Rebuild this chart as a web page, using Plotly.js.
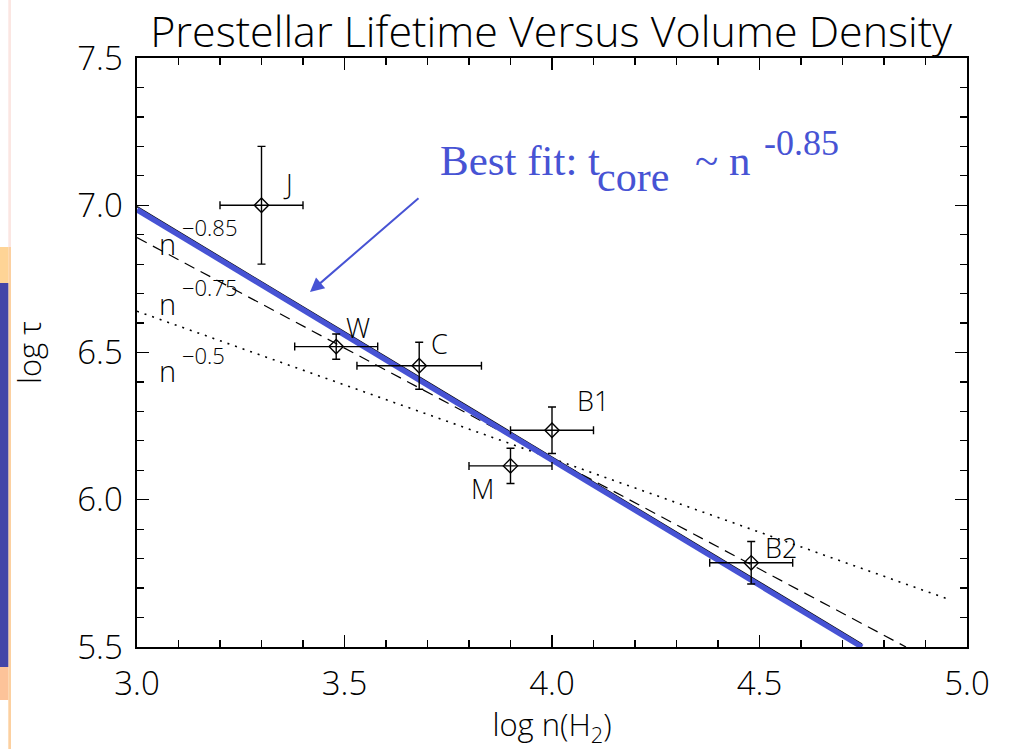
<!DOCTYPE html>
<html>
<head>
<meta charset="utf-8">
<script src="https://cdn.plot.ly/plotly-3.0.1.min.js"></script>
<style>
html,body{margin:0;padding:0;background:#fff;}
#chart{width:1012px;height:749px;}
</style>
</head>
<body>
<div id="chart"></div>
<script>
// Cores: names, log n(H2), log tau and their error bars
const coreNames = ["J", "W", "C", "B1", "M", "B2"];
const logN = [3.30, 3.48, 3.68, 4.00, 3.90, 4.48];
const logTau = [7.00, 6.52, 6.455, 6.236, 6.115, 5.786];
const errN = [0.10, 0.10, 0.15, 0.10, 0.10, 0.10];
const errTau = [0.20, 0.043, 0.08, 0.079, 0.06, 0.072];

// Power-law lines (endpoints)
const fitX = [3.0, 4.747];
const fitY = [6.985, 5.5];
const line085X = [3.0, 4.747];
const line085Y = [6.995, 5.510];
const line075X = [3.0, 4.853];
const line075Y = [6.89, 5.5];
const line05X = [3.0, 4.95];
const line05Y = [6.64, 5.665];

const xTicks = [3.0, 3.5, 4.0, 4.5, 5.0];
const yTicks = [5.5, 6.0, 6.5, 7.0, 7.5];

const BLUE = "#4753d4";
const FONT = "Open Sans, DejaVu Sans, sans-serif";
const SERIF = "Liberation Serif, Times New Roman, serif";

const traces = [
  {x: line05X, y: line05Y, mode: "lines", line: {color: "#000", width: 1.6, dash: "2px,6px"}, hoverinfo: "skip"},
  {x: line075X, y: line075Y, mode: "lines", line: {color: "#000", width: 1.2, dash: "11px,7px"}, hoverinfo: "skip"},
  {x: line085X, y: line085Y, mode: "lines", line: {color: "#000", width: 1.5}, hoverinfo: "skip"},
  {x: fitX, y: fitY, mode: "lines", line: {color: BLUE, width: 5.5}, hoverinfo: "skip"},
  {
    x: logN, y: logTau, mode: "markers", text: coreNames,
    marker: {symbol: "diamond-open", size: 11, color: "#000", line: {width: 1.4, color: "#000"}},
    error_x: {type: "data", array: errN, visible: true, color: "#000", thickness: 1.4, width: 4},
    error_y: {type: "data", array: errTau, visible: true, color: "#000", thickness: 1.4, width: 4}
  }
];

// helper to convert pixel of reference to data coords (for annotation placement)
function px2x(p){ return 3 + (p - 137) / 415; }
function py2y(p){ return 7.5 - (p - 58) / 294.5; }

const labelFont = {family: FONT, size: 27, color: "#000", weight: 300};
const annotations = [];
const labelPos = [[288, 183], [358, 327], [439, 343], [593, 400], [482, 488], [781, 547]];
coreNames.forEach((n, i) => {
  annotations.push({x: px2x(labelPos[i][0]), y: py2y(labelPos[i][1]), xref: "x", yref: "y",
    text: n, showarrow: false, font: labelFont, xanchor: "center", yanchor: "middle"});
});
const powLabels = [["−0.85", 243, 227], ["−0.75", 303, 287], ["−0.5", 370, 355]];
powLabels.forEach(p => {
  annotations.push({x: px2x(167), y: py2y(p[1]), xref: "x", yref: "y", text: "n", showarrow: false,
    font: {family: FONT, size: 29, color: "#000", weight: 300}, xanchor: "center", yanchor: "middle"});
  annotations.push({x: px2x(180), y: py2y(p[2]), xref: "x", yref: "y", text: p[0], showarrow: false,
    font: {family: FONT, size: 22, color: "#000", weight: 300}, xanchor: "left", yanchor: "middle"});
});
// Blue annotation text (pieces) and arrow
const blueParts = [
  ["Best fit: t", 440, 160, 43],
  ["core", 597, 177, 42],
  ["~ n", 695, 160, 43],
  ["-0.85", 764, 143, 36]
];
blueParts.forEach(b => {
  annotations.push({x: px2x(b[1]), y: py2y(b[2]), xref: "x", yref: "y", text: b[0], showarrow: false,
    font: {family: SERIF, size: b[3], color: BLUE}, xanchor: "left", yanchor: "middle",
    xshift: -2});
});
annotations.push({x: px2x(310), y: py2y(292), xref: "x", yref: "y",
  ax: px2x(420), ay: py2y(197), axref: "x", ayref: "y", text: "",
  showarrow: true, arrowhead: 2, arrowsize: 1.4, arrowwidth: 2, arrowcolor: BLUE});

// Left page decorations (paper coords)
const W = 830, H = 589, L = 137, T = 58;
function pX(p){ return (p - L) / W; }
function pY(p){ return (T + H - p) / H; }
const shapes = [
  {type: "rect", xref: "paper", yref: "paper", x0: pX(8.3), x1: pX(11), y0: pY(0), y1: pY(247), fillcolor: "#fbe6e2", line: {width: 0}, layer: "below"},
  {type: "rect", xref: "paper", yref: "paper", x0: pX(8.3), x1: pX(11), y0: pY(247), y1: pY(749), fillcolor: "#fcd0a0", line: {width: 0}, layer: "below"},
  {type: "rect", xref: "paper", yref: "paper", x0: pX(0), x1: pX(8.3), y0: pY(247), y1: pY(283), fillcolor: "#fed496", line: {width: 0}, layer: "below"},
  {type: "rect", xref: "paper", yref: "paper", x0: pX(0), x1: pX(8.3), y0: pY(283), y1: pY(667), fillcolor: "#4446a8", line: {width: 0}, layer: "below"},
  {type: "rect", xref: "paper", yref: "paper", x0: pX(0), x1: pX(8.3), y0: pY(667), y1: pY(700), fillcolor: "#fdc399", line: {width: 0}, layer: "below"}
];

const axisCommon = {
  showline: true, linecolor: "#000", linewidth: 1.6, mirror: "ticks",
  ticks: "inside", ticklen: 12, tickwidth: 1.4, tickcolor: "#000",
  showgrid: false, zeroline: false, tickformat: ".1f",
  tickfont: {family: FONT, size: 33, color: "#000", weight: 300},
  minor: {dtick: 0.1, ticks: "inside", ticklen: 7, tickwidth: 1.2, tickcolor: "#000", showgrid: false}
};

const layout = {
  width: 1012, height: 749,
  margin: {l: L, r: 1012 - L - W, t: T, b: 749 - T - H},
  paper_bgcolor: "#fff", plot_bgcolor: "#fff",
  showlegend: false,
  title: {text: "Prestellar Lifetime Versus Volume Density", x: 0.5445, xanchor: "center",
    y: 0.958, yanchor: "middle", yref: "container",
    font: {family: FONT, size: 43, color: "#000", weight: 300}},
  xaxis: Object.assign({}, axisCommon, {range: [3.0, 5.0], tickvals: xTicks, ticklabelstandoff: 7,
    title: {text: "log n(H<sub>2</sub>)", font: {family: FONT, size: 31, color: "#000", weight: 300}, standoff: 14}}),
  yaxis: Object.assign({}, axisCommon, {range: [5.5, 7.5], tickvals: yTicks, ticklabelstandoff: 6,
    title: {text: "log τ", font: {family: FONT, size: 31, color: "#000", weight: 300}, standoff: 26}}),
  annotations: annotations,
  shapes: shapes
};

Plotly.newPlot("chart", traces, layout, {displayModeBar: false, staticPlot: true});
</script>
</body>
</html>
